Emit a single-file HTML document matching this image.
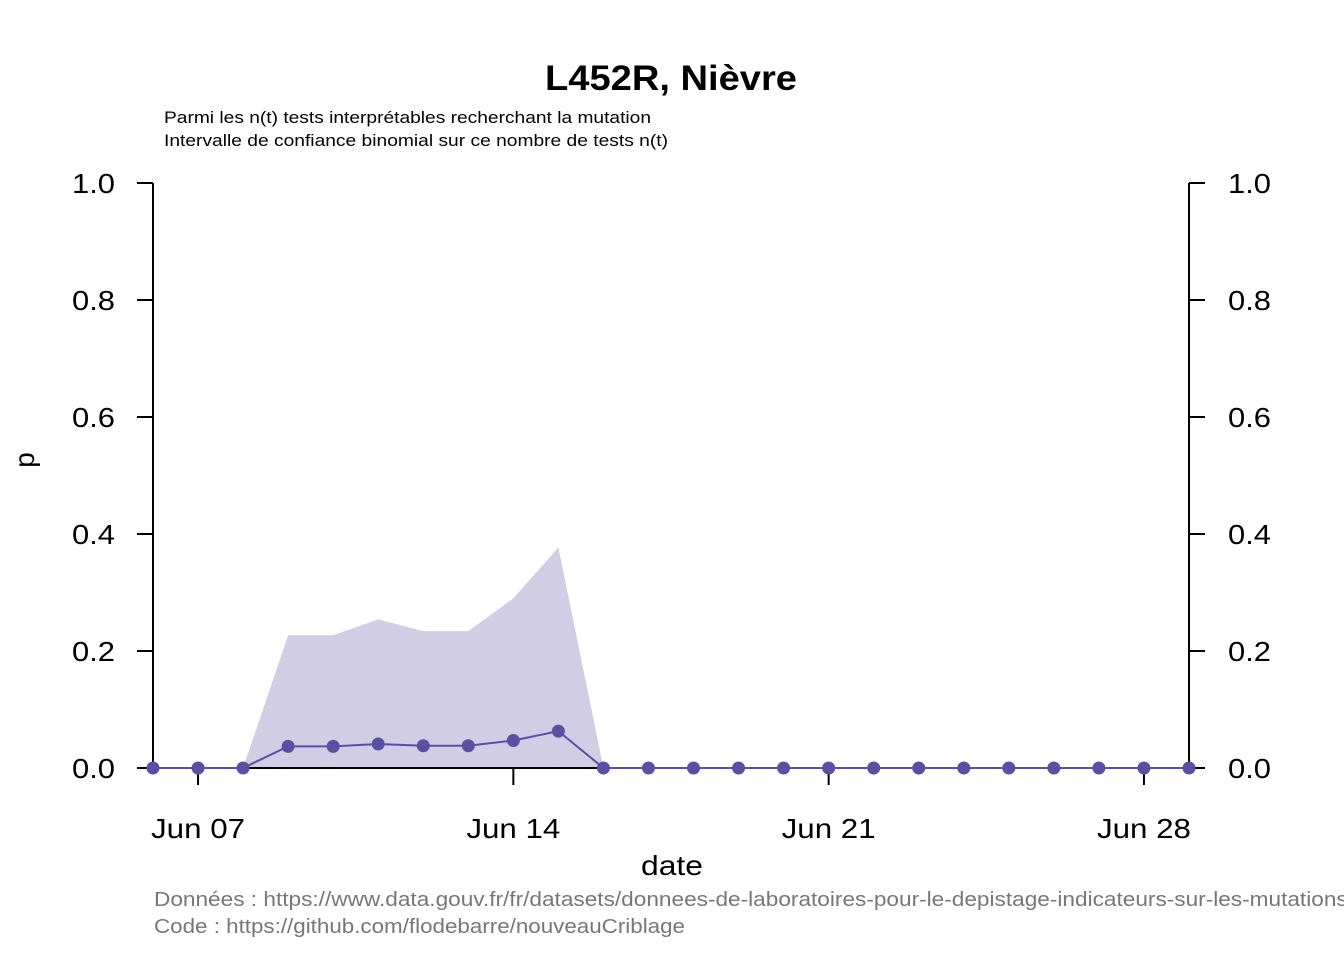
<!DOCTYPE html>
<html><head><meta charset="utf-8"><style>
body{margin:0;background:#fff}
svg text{font-family:"Liberation Sans",Arial,sans-serif}
</style></head><body>
<svg id="chart" width="1344" height="960" viewBox="0 0 1344 960" xmlns="http://www.w3.org/2000/svg">
<rect width="1344" height="960" fill="#fff"/>
<text x="545" y="90" font-size="35" font-weight="bold" textLength="252" lengthAdjust="spacingAndGlyphs">L452R, Nièvre</text>
<text x="164" y="123" font-size="17" textLength="487" lengthAdjust="spacingAndGlyphs">Parmi les n(t) tests interprétables recherchant la mutation</text>
<text x="164" y="146" font-size="17" textLength="504" lengthAdjust="spacingAndGlyphs">Intervalle de confiance binomial sur ce nombre de tests n(t)</text>
<g id="plot"></g>
<text x="641" y="875" font-size="28" textLength="62" lengthAdjust="spacingAndGlyphs">date</text>
<text x="34" y="460" text-anchor="middle" font-size="28" transform="rotate(-90 34 460)">p</text>
<text x="154" y="906" font-size="20" fill="#777" textLength="1200" lengthAdjust="spacingAndGlyphs">Données : https://www.data.gouv.fr/fr/datasets/donnees-de-laboratoires-pour-le-depistage-indicateurs-sur-les-mutations/</text>
<text x="154" y="933" font-size="20" fill="#777" textLength="531" lengthAdjust="spacingAndGlyphs">Code : https://github.com/flodebarre/nouveauCriblage</text>
</svg>
<script>
const days = [6,7,8,9,10,11,12,13,14,15,16,17,18,19,20,21,22,23,24,25,26,27,28,29];
const pValues = [0,0,0,0.037,0.037,0.041,0.038,0.038,0.047,0.063,0,0,0,0,0,0,0,0,0,0,0,0,0,0];
const upperCI = [0,0,0,0.227,0.227,0.254,0.234,0.234,0.29,0.377,0,0,0,0,0,0,0,0,0,0,0,0,0,0];
const lowerCI = [0,0,0,0.001,0.001,0.001,0.001,0.001,0.001,0.002,0,0,0,0,0,0,0,0,0,0,0,0,0,0];
const xTickDays = [7,14,21,28];
const xTickLabels = ["Jun 07","Jun 14","Jun 21","Jun 28"];
const yTicks = [0,0.2,0.4,0.6,0.8,1.0];
const NS="http://www.w3.org/2000/svg";
const X=d=>153+(d-6)*(1189-153)/23;
const Y=v=>768-v*585;
const g=document.getElementById('plot');
function mk(t,a){const e=document.createElementNS(NS,t);for(const k in a)e.setAttribute(k,a[k]);g.appendChild(e);return e;}
let pts=days.map((d,i)=>X(d)+','+Y(upperCI[i]));
for(let i=days.length-1;i>=0;i--)pts.push(X(days[i])+','+Y(lowerCI[i]));
let band=mk('polygon',{points:pts.join(' '),fill:'#d0cde4'});


let ax=mk('path',{d:`M153 183V768H1189V183M153 768H1189`,stroke:'#000','stroke-width':2,fill:'none'});


yTicks.forEach(v=>{
 mk('line',{x1:137,x2:153,y1:Y(v),y2:Y(v),stroke:'#000','stroke-width':2});
 mk('line',{x1:1189,x2:1205,y1:Y(v),y2:Y(v),stroke:'#000','stroke-width':2});
 let t=mk('text',{x:72,y:Y(v)+10,'font-size':28,textLength:43,lengthAdjust:'spacingAndGlyphs'});t.textContent=v.toFixed(1);
 
 
 let t2=mk('text',{x:1228,y:Y(v)+10,'font-size':28,textLength:43,lengthAdjust:'spacingAndGlyphs'});t2.textContent=v.toFixed(1);
 
 
});
xTickDays.forEach((d,i)=>{
 mk('line',{x1:X(d),x2:X(d),y1:768,y2:785,stroke:'#000','stroke-width':2});
 let t=mk('text',{x:X(d)-47,y:838,'font-size':28,textLength:94,lengthAdjust:'spacingAndGlyphs'});t.textContent=xTickLabels[i];
 
 
});
let line=mk('polyline',{points:days.map((d,i)=>X(d)+','+Y(pValues[i])).join(' '),fill:'none',stroke:'#5a4fa0','stroke-width':2});


days.forEach((d,i)=>{
 let c=mk('circle',{cx:X(d),cy:Y(pValues[i]),r:6.5,fill:'#5a4fa0'});
 
 
});
</script>
</body></html>
